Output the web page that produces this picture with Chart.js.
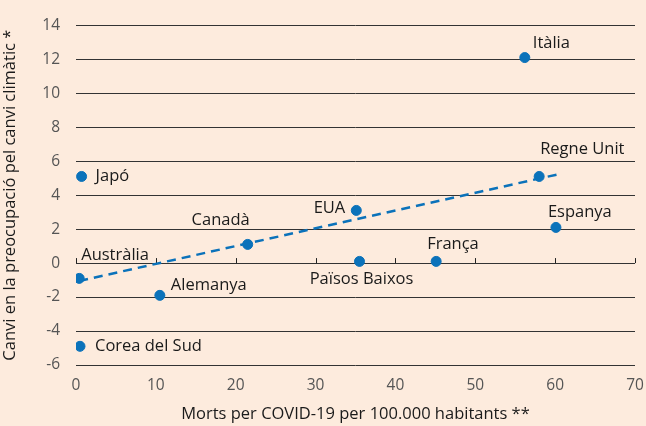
<!DOCTYPE html>
<html>
<head>
<meta charset="utf-8">
<script src="https://cdn.jsdelivr.net/npm/chart.js@4/dist/chart.umd.min.js"></script>
<style>
  html, body { margin: 0; padding: 0; background: #FDEBDD; }
  #wrap { width: 646px; height: 426px; position: relative; }
</style>
</head>
<body>
<div id="wrap"><canvas id="c" width="646" height="426"></canvas></div>
<script>
// ---- data ----
const countries = ["Itàlia", "Regne Unit", "Japó", "EUA", "Espanya", "Canadà", "Països Baixos", "França", "Austràlia", "Alemanya", "Corea del Sud"];
const deaths    = [56.2, 58.0, 0.7, 35.1, 60.1, 21.5, 35.5, 45.1, 0.4, 10.5, 0.5];
const concern   = [12.1, 5.1, 5.1, 3.1, 2.1, 1.1, 0.1, 0.1, -0.9, -1.9, -4.9];
const trendX    = [0.4, 60.6];
const trendY    = [-1.05, 5.25];
const xTicks    = [0, 10, 20, 30, 40, 50, 60, 70];
const yTicks    = [-6, -4, -2, 0, 2, 4, 6, 8, 10, 12, 14];
const xTitle    = "Morts per COVID-19 per 100.000 habitants **";
const yTitle    = "Canvi en la preocupació pel canvi climàtic *";

// ---- label placement (styling, not data) ----
const place = {
  "Itàlia":        { dx: 8,   dy: -14, align: "left" },
  "Regne Unit":    { dx: 1,   dy: -27, align: "left" },
  "Japó":          { dx: 14,  dy: 0,   align: "left" },
  "EUA":           { dx: -11, dy: -2,  align: "right" },
  "Espanya":       { dx: -8,  dy: -15, align: "left" },
  "Canadà":        { dx: 2,   dy: -24, align: "right" },
  "Països Baixos": { dx: 2,   dy: 18,  align: "center" },
  "França":        { dx: -9,  dy: -17, align: "left" },
  "Austràlia":     { dx: 2,   dy: -23, align: "left" },
  "Alemanya":      { dx: 11,  dy: -10, align: "left" },
  "Corea del Sud": { dx: 15,  dy: 0,   align: "left" }
};

const FONT = "'Open Sans', 'Noto Sans', sans-serif";
const BLUE = "#0B72BA";

const bgPlugin = {
  id: "bg",
  beforeDraw(chart) {
    const ctx = chart.ctx;
    ctx.save();
    ctx.fillStyle = "#FDEBDD";
    ctx.fillRect(0, 0, chart.width, chart.height);
    ctx.restore();
  }
};

const zeroTicksPlugin = {
  id: "zeroTicks",
  beforeDatasetsDraw(chart) {
    const ctx = chart.ctx, xs = chart.scales.x, ys = chart.scales.y;
    const y0 = ys.getPixelForValue(0);
    ctx.save();
    ctx.strokeStyle = "#222";
    ctx.lineWidth = 1;
    ctx.beginPath();
    xTicks.forEach(v => {
      const px = Math.round(xs.getPixelForValue(v)) + 0.5;
      ctx.moveTo(px, y0);
      ctx.lineTo(px, y0 - 5);
    });
    ctx.stroke();
    ctx.restore();
  }
};

const labelPlugin = {
  id: "ptLabels",
  afterDatasetsDraw(chart) {
    const ctx = chart.ctx, xs = chart.scales.x, ys = chart.scales.y;
    ctx.save();
    ctx.font = "16.5px " + FONT;
    ctx.fillStyle = "#1a1a1a";
    ctx.textBaseline = "middle";
    countries.forEach((name, i) => {
      const p = place[name];
      const px = xs.getPixelForValue(deaths[i]);
      const py = ys.getPixelForValue(concern[i]);
      ctx.textAlign = p.align;
      ctx.fillText(name, px + p.dx, py + p.dy);
    });
    ctx.restore();
  }
};

new Chart(document.getElementById("c"), {
  type: "scatter",
  data: {
    datasets: [
      {
        type: "line",
        data: trendX.map((x, i) => ({ x, y: trendY[i] })),
        borderColor: BLUE,
        borderWidth: 2.5,
        borderDash: [9, 6],
        pointRadius: 0,
        fill: false,
        order: 2
      },
      {
        data: deaths.map((x, i) => ({ x, y: concern[i] })),
        backgroundColor: BLUE,
        borderColor: BLUE,
        pointRadius: 5,
        pointHoverRadius: 5,
        order: 1
      }
    ]
  },
  options: {
    responsive: false,
    animation: false,
    events: [],
    layout: { padding: { top: 13, right: 0, left: 0, bottom: 0 } },
    plugins: { legend: { display: false }, tooltip: { enabled: false } },
    scales: {
      x: {
        type: "linear",
        min: 0, max: 70,
        afterBuildTicks: s => { s.ticks = xTicks.map(v => ({ value: v })); },
        grid: { display: false, drawTicks: false },
        border: { display: false },
        ticks: { color: "#555", font: { family: FONT, size: 15.5 }, padding: 11, maxRotation: 0 },
        title: { display: true, text: xTitle, color: "#1a1a1a", font: { family: FONT, size: 16.5 }, padding: { top: 2, bottom: 2 } },
        afterFit: s => { s.height = 61; s.paddingRight = 11; s.paddingLeft = 0; }
      },
      y: {
        type: "linear",
        min: -6, max: 14,
        afterBuildTicks: s => { s.ticks = yTicks.map(v => ({ value: v })); },
        grid: { color: "#333", lineWidth: 1, drawTicks: false },
        border: { display: false },
        ticks: { color: "#555", font: { family: FONT, size: 15.5 }, padding: 16 },
        title: { display: true, text: yTitle, color: "#1a1a1a", font: { family: FONT, size: 16.5 }, padding: { top: 0, bottom: 2 } },
        afterFit: s => { s.width = 76; }
      }
    }
  },
  plugins: [bgPlugin, zeroTicksPlugin, labelPlugin]
});
</script>
</body>
</html>
